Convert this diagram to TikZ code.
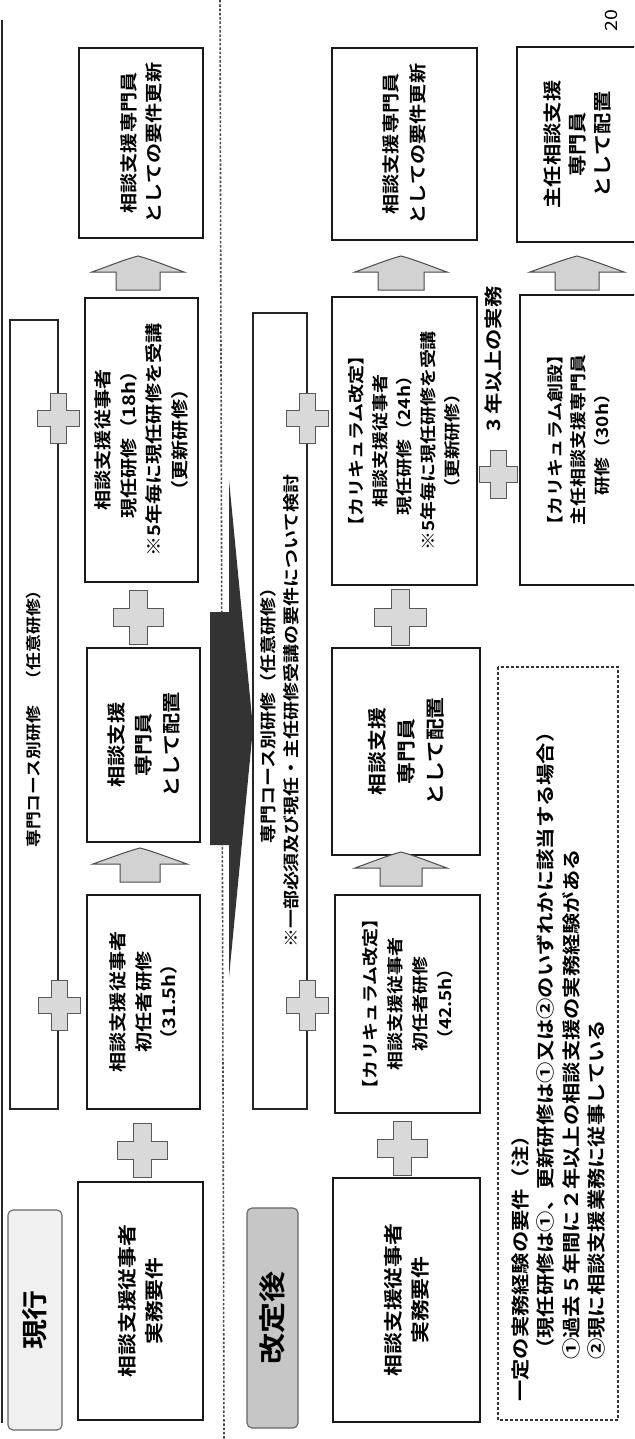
\documentclass[tikz,border=0pt]{standalone}
\usepackage{fontspec}
\setmainfont{Noto Sans CJK JP}[BoldFont={Noto Sans CJK JP Bold},FakeStretch=1.15]
\newcommand\fs[2]{\fontsize{#1}{#2}\selectfont}
% plus-shaped mark: cx, cy, half width (x), half height (y), half thickness
\newcommand\drawplus[5]{%
  \draw[crossstyle] ({#1-#5},{#2-#4}) -- ({#1+#5},{#2-#4}) -- ({#1+#5},{#2-#5}) -- ({#1+#3},{#2-#5})
   -- ({#1+#3},{#2+#5}) -- ({#1+#5},{#2+#5}) -- ({#1+#5},{#2+#4}) -- ({#1-#5},{#2+#4})
   -- ({#1-#5},{#2+#5}) -- ({#1-#3},{#2+#5}) -- ({#1-#3},{#2-#5}) -- ({#1-#5},{#2-#5}) -- cycle;}
% block arrow pointing up in the picture: cx, tip y, head half width, shaft half width
\newcommand\drawblockarrow[4]{%
  \draw[arrowstyle] (#1,#2) .. controls ({#1-12},{#2+3}) and ({#1-#3+14},{#2+11}) .. ({#1-#3},{#2+16})
   -- ({#1-#4},{#2+16}) -- ({#1-#4},{#2+34}) -- ({#1+#4},{#2+34}) -- ({#1+#4},{#2+16}) -- ({#1+#3},{#2+16})
   .. controls ({#1+#3-14},{#2+11}) and ({#1+12},{#2+3}) .. (#1,#2) -- cycle;}
\tikzset{
  stagebox/.style={draw=black!90, line width=1.5pt, rotate=90, inner sep=0pt, outer sep=0pt, align=center, text=black},
  barbox/.style={draw=black!85, line width=1.3pt, rotate=90, inner sep=0pt, outer sep=0pt, align=center},
  tagbox/.style={draw=black!60, line width=1.1pt, rotate=90, rounded corners=5pt, inner sep=0pt, outer sep=0pt},
  crossstyle/.style={fill=gray!30, draw=black!65, line width=1pt},
  arrowstyle/.style={fill=gray!35, draw=black!70, line width=1pt},
  notebox/.style={draw=black!80, line width=1.5pt, dash pattern=on 3pt off 2pt, rotate=90, inner sep=0pt, outer sep=0pt},
  notetext/.style={rotate=90, anchor=west, inner sep=0pt, font=\bfseries\fs{18.5}{22}},
}
\begin{document}
\begin{tikzpicture}[x=1pt,y=-1pt]
\fill[white] (0,0) rectangle (634,1439);
\clip (0,0) rectangle (634,1439);

% frame edge and separator
\draw[line width=1.8pt, black!85] (2,20) -- (2,1423);
\draw[line width=1.6pt, black!70, dash pattern=on 2.5pt off 1.8pt] (220,0) -- (224,1439);

% big transition arrow
\fill[black!80] (210,612) -- (229,612) -- (229,480) -- (253,728) -- (229,977) -- (229,845) -- (210,845) -- cycle;

% stage tags
\node[tagbox, fill=gray!12, minimum width=220pt, minimum height=54pt, font=\bfseries\fs{26}{26}] (cur) at (35,1320) {現行};
\node[tagbox, fill=gray!45, minimum width=220pt, minimum height=51pt, font=\bfseries\fs{27}{27}] (rev) at (272.5,1318) {改定後};

% ---- current (row 1)
\node[barbox, minimum width=789pt, minimum height=48pt, font=\bfseries\fs{15.5}{17}] (bar1) at (34,714.5) {専門コース別研修　（任意研修）};
\node[stagebox, minimum width=238pt, minimum height=125pt, font=\bfseries\fs{19}{27}] (A) at (140.5,1301) {相談支援従事者\\実務要件};
\node[stagebox, minimum width=214pt, minimum height=113pt, font=\bfseries\fs{17.5}{25.5}] (B) at (143.5,1002) {相談支援従事者\\初任者研修\\（31.5h）};
\node[stagebox, minimum width=194pt, minimum height=113pt, font=\bfseries\fs{18.5}{27.5}] (C) at (143.5,745) {相談支援\\専門員\\として配置};
\node[stagebox, minimum width=284pt, minimum height=113pt, font=\bfseries\fs{17.5}{25.5}] (D) at (141.5,440) {相談支援従事者\\現任研修（18h）\\※5年毎に現任研修を受講\\（更新研修）};
\node[stagebox, minimum width=190pt, minimum height=124pt, font=\bfseries\fs{17.5}{25}] (E) at (141,143) {相談支援専門員\\としての要件更新};

% ---- revised (row 2)
\node[barbox, minimum width=796pt, minimum height=54pt, font=\bfseries\fs{16.5}{23}] (bar2) at (280,711) {専門コース別研修（任意研修）\\※一部必須及び現任・主任研修受講の要件について検討};
\node[stagebox, minimum width=244pt, minimum height=147pt, font=\bfseries\fs{19}{27}] (F) at (406.5,1300) {相談支援従事者\\実務要件};
\node[stagebox, minimum width=218pt, minimum height=145pt, font=\bfseries\fs{16.5}{25}] (G) at (407.5,1004) {【カリキュラム改定】\\相談支援従事者\\初任者研修\\（42.5h）};
\node[stagebox, minimum width=207pt, minimum height=148pt, font=\bfseries\fs{19}{29}] (H) at (406,751.5) {相談支援\\専門員\\として配置};
\node[stagebox, minimum width=288pt, minimum height=145pt, font=\bfseries\fs{16.5}{24}] (I) at (404.5,441) {【カリキュラム改定】\\相談支援従事者\\現任研修（24h）\\※5年毎に現任研修を受講\\（更新研修）};
\node[stagebox, minimum width=192pt, minimum height=145pt, font=\bfseries\fs{17.5}{27}] (K) at (404.5,144) {相談支援専門員\\としての要件更新};
\node[stagebox, minimum width=290pt, minimum height=117pt, font=\bfseries\fs{16.5}{23.5}] (J) at (578.5,440) {【カリキュラム創設】\\主任相談支援専門員\\研修（30h）};
\node[stagebox, minimum width=195pt, minimum height=120pt, font=\bfseries\fs{18.5}{25}] (L) at (577,144.5) {主任相談支援\\専門員\\として配置};
\node[rotate=90, inner sep=0pt, font=\bfseries\fs{18.5}{20}] (exp) at (493,359) {3 年以上の実務};

% plus marks
\drawplus{142}{1150}{25}{27}{9}
\drawplus{138}{617}{25}{27}{9}
\drawplus{402}{1148}{25}{27}{9}
\drawplus{400}{617}{26}{28}{9}
\drawplus{498}{474}{19}{24}{8}
\drawplus{58}{418}{21}{25}{8}
\drawplus{59}{1005}{21}{25}{8}
\drawplus{307}{418}{21}{25}{8}
\drawplus{307}{1005}{21}{25}{8}

% block arrows
\drawblockarrow{138}{256}{46}{22}
\drawblockarrow{140}{848}{47}{20}
\drawblockarrow{401}{256}{46}{23}
\drawblockarrow{401}{852}{46}{21}
\drawblockarrow{577}{256}{47}{22}

% note
\node[notebox, minimum width=753pt, minimum height=120pt] (note) at (558,1043.5) {};
\node[notetext] (n1) at (520,1402) {一定の実務経験の要件（注）};
\node[notetext] (n2) at (545,1360) {（現任研修は①、更新研修は①又は②のいずれかに該当する場合）};
\node[notetext] (n3) at (571,1360) {①過去５年間に２年以上の相談支援の実務経験がある};
\node[notetext] (n4) at (596,1360) {②現に相談支援業務に従事している};

% page number
\node[rotate=90, inner sep=0pt, font=\fs{17}{17}] (pg) at (611,21) {20};
\end{tikzpicture}
\end{document}
